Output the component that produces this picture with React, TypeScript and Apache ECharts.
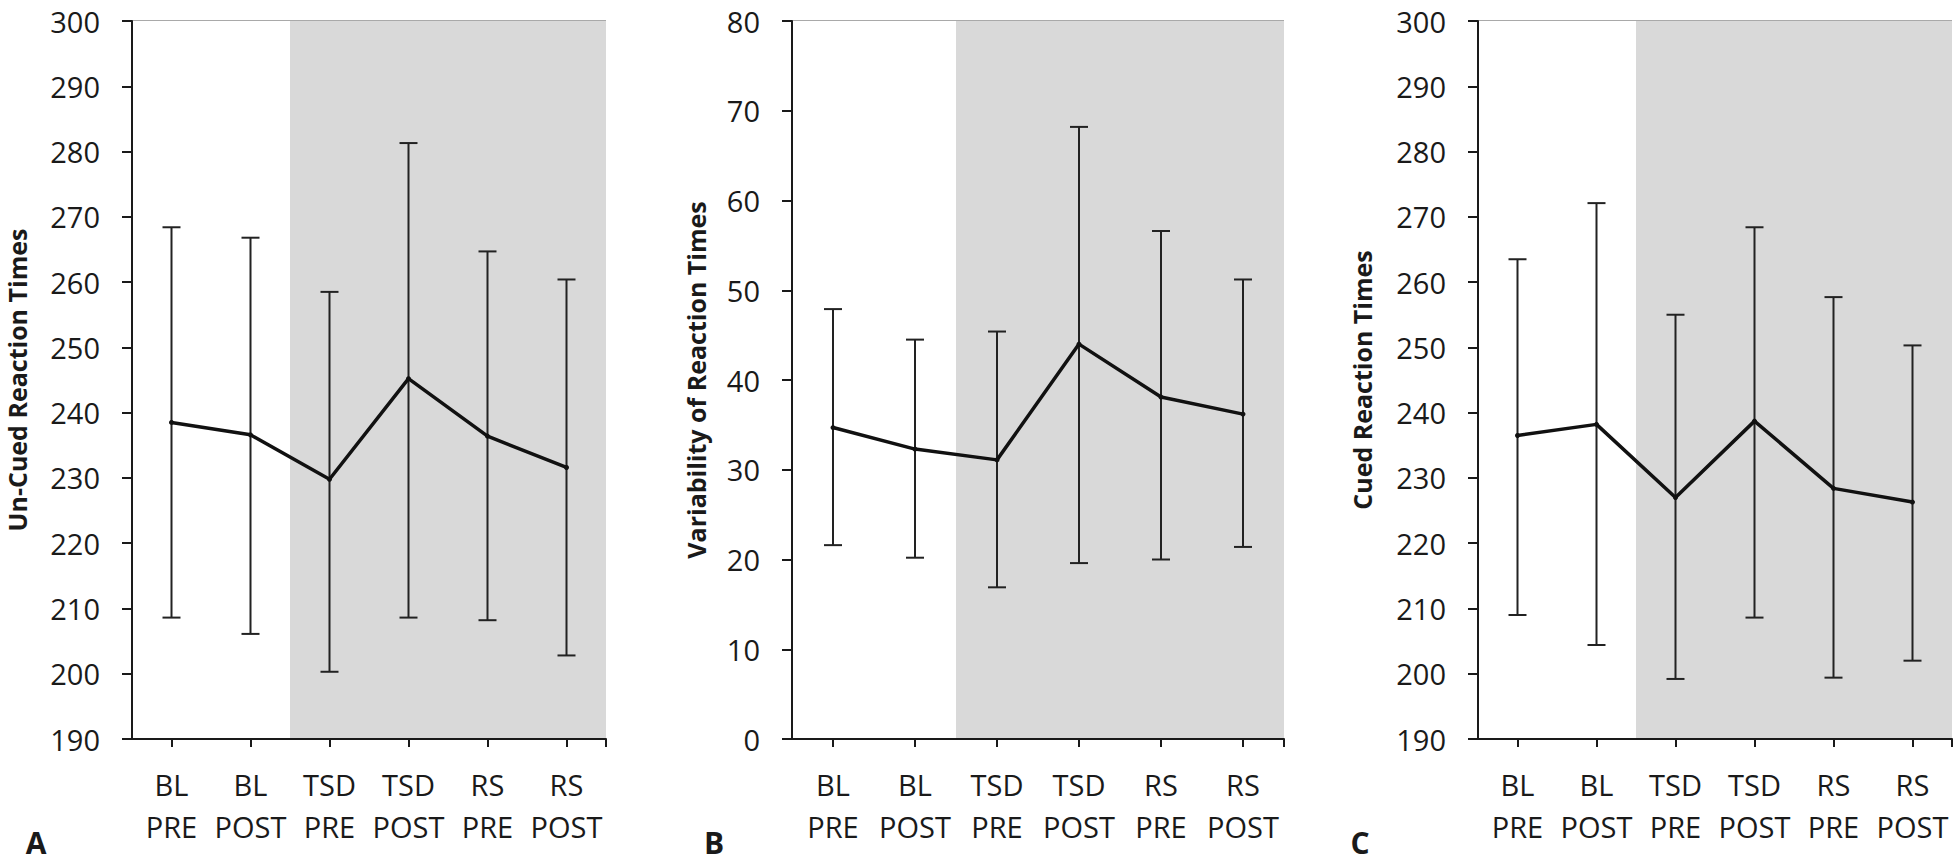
import React, { useEffect, useRef } from "react";
import * as echarts from "echarts";

const categories = ["BL\nPRE", "BL\nPOST", "TSD\nPRE", "TSD\nPOST", "RS\nPRE", "RS\nPOST"];

const uncuedMean = [238.5, 236.6, 229.8, 245.2, 236.4, 231.6];
const uncuedHigh = [268.4, 266.8, 258.5, 281.3, 264.7, 260.4];
const uncuedLow = [208.6, 206.1, 200.3, 208.6, 208.2, 202.8];

const variabilityMean = [34.7, 32.3, 31.1, 44.0, 38.1, 36.2];
const variabilityHigh = [47.9, 44.5, 45.4, 68.2, 56.6, 51.2];
const variabilityLow = [21.6, 20.2, 16.9, 19.6, 20.0, 21.4];

const cuedMean = [236.5, 238.2, 227.0, 238.7, 228.4, 226.3];
const cuedHigh = [263.5, 272.1, 255.0, 268.4, 257.7, 250.3];
const cuedLow = [209.0, 204.4, 199.2, 208.6, 199.4, 202.0];

const panelTitles = ["Un-Cued Reaction Times", "Variability of Reaction Times", "Cued Reaction Times"];
const panelLetters = ["A", "B", "C"];
const yRanges = [
  { min: 190, max: 300, interval: 10 },
  { min: 0, max: 80, interval: 10 },
  { min: 190, max: 300, interval: 10 },
];

export default function App() {
  const ref = useRef<HTMLDivElement>(null);

  useEffect(() => {
    if (!ref.current) return;
    const chart = echarts.init(ref.current, null, { renderer: "svg" });

    const grids = [
      { left: 132, top: 21, width: 474, height: 718 },
      { left: 792, top: 21, width: 492, height: 718 },
      { left: 1478, top: 21, width: 474, height: 718 },
    ];
    const titleX = [17, 696, 1362];
    const letterX = [36, 714, 1360];

    const means = [uncuedMean, variabilityMean, cuedMean];
    const highs = [uncuedHigh, variabilityHigh, cuedHigh];
    const lows = [uncuedLow, variabilityLow, cuedLow];

    const font = "'Open Sans', 'DejaVu Sans', sans-serif";
    const textColor = "#1a1a1a";
    const gray = "#d9d9d9";

    const xAxes: any[] = [];
    const yAxes: any[] = [];
    const series: any[] = [];

    grids.forEach((_, i) => {
      xAxes.push({
        type: "category",
        gridIndex: i,
        data: categories,
        boundaryGap: true,
        axisLine: { show: true, lineStyle: { color: "#1a1a1a", width: 2 } },
        axisTick: { show: true, alignWithLabel: true, length: 8, lineStyle: { color: "#1a1a1a", width: 2 } },
        axisLabel: {
          color: textColor,
          fontFamily: font,
          fontSize: 29,
          lineHeight: 42,
          margin: 24,
          interval: 0,
        },
        splitLine: { show: false },
        splitArea: {
          show: true,
          areaStyle: { color: ["#ffffff", "#ffffff", gray, gray, gray, gray] },
        },
      });
    });
    grids.forEach((_, i) => {
      xAxes.push({
        type: "value",
        gridIndex: i,
        min: 0,
        max: 6,
        interval: 6,
        position: "bottom",
        axisLine: { show: false },
        axisLabel: { show: false },
        splitLine: { show: false },
        axisTick: {
          show: true,
          customValues: [6],
          length: 8,
          lineStyle: { color: "#1a1a1a", width: 2 },
        },
      });
    });

    grids.forEach((_, i) => {
      yAxes.push({
        type: "value",
        gridIndex: i,
        min: yRanges[i].min,
        max: yRanges[i].max,
        interval: yRanges[i].interval,
        axisLine: { show: true, lineStyle: { color: "#1a1a1a", width: 2 } },
        axisTick: { show: true, length: 10, lineStyle: { color: "#1a1a1a", width: 2 } },
        axisLabel: {
          color: textColor,
          fontFamily: font,
          fontSize: 29,
          margin: 32,
        },
        splitLine: { show: true, lineStyle: { color: "#8c8c8c", width: 1.5 } },
      });

      const errData = categories.map((_, k) => [k, lows[i][k], highs[i][k]]);
      series.push({
        type: "custom",
        xAxisIndex: i,
        yAxisIndex: i,
        data: errData,
        encode: { x: 0, y: [1, 2] },
        z: 3,
        renderItem: (params: any, api: any) => {
          const x = api.value(0);
          const lo = api.coord([x, api.value(1)]);
          const hi = api.coord([x, api.value(2)]);
          const hw = 9;
          const style = { stroke: "#222222", lineWidth: 2 };
          return {
            type: "group",
            children: [
              { type: "line", shape: { x1: lo[0], y1: lo[1], x2: hi[0], y2: hi[1] }, style },
              { type: "line", shape: { x1: lo[0] - hw, y1: lo[1], x2: lo[0] + hw, y2: lo[1] }, style },
              { type: "line", shape: { x1: hi[0] - hw, y1: hi[1], x2: hi[0] + hw, y2: hi[1] }, style },
            ],
          };
        },
      });

      series.push({
        type: "line",
        xAxisIndex: i,
        yAxisIndex: i,
        data: means[i],
        z: 4,
        symbol: "circle",
        symbolSize: 5,
        itemStyle: { color: "#111111" },
        lineStyle: { color: "#111111", width: 3.5 },
      });
    });

    const graphics: any[] = [];
    grids.forEach((g, i) => {
      graphics.push({
        type: "text",
        x: titleX[i],
        y: g.top + g.height / 2,
        rotation: Math.PI / 2,
        style: {
          text: panelTitles[i],
          fontFamily: font,
          fontWeight: "bold",
          fontSize: 25,
          fill: textColor,
          align: "center",
          verticalAlign: "middle",
        },
      });
      graphics.push({
        type: "text",
        x: letterX[i],
        y: 842,
        style: {
          text: panelLetters[i],
          fontFamily: font,
          fontWeight: "bold",
          fontSize: 30,
          fill: textColor,
          align: "center",
          verticalAlign: "middle",
        },
      });
    });

    chart.setOption({
      animation: false,
      backgroundColor: "#ffffff",
      grid: grids,
      xAxis: xAxes,
      yAxis: yAxes,
      series,
      graphic: graphics,
    });

    return () => {
      chart.dispose();
    };
  }, []);

  return (
    <div
      ref={ref}
      style={{ position: "fixed", left: 0, top: 0, width: 1958, height: 866, background: "#fff" }}
    />
  );
}
